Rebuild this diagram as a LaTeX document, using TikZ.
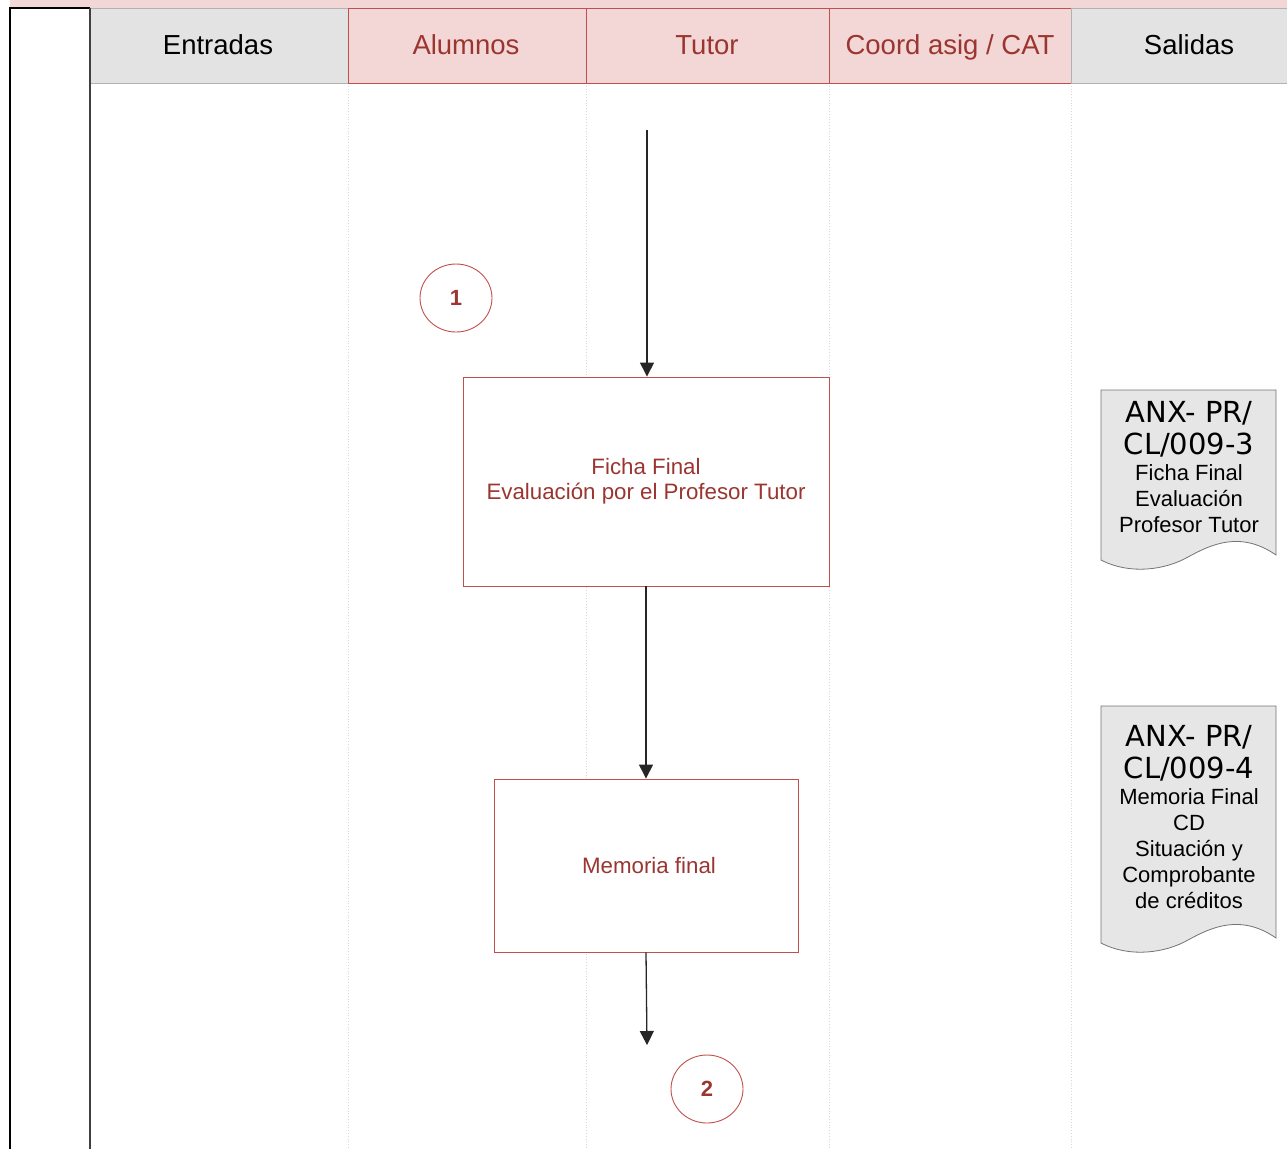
\documentclass[tikz,border=0pt]{standalone}
\usepackage{fontspec}
\setmainfont{Liberation Sans}
\newfontfamily\docfont{DejaVu Sans}
\usetikzlibrary{arrows.meta,shapes.geometric}
\definecolor{pinkfill}{HTML}{F3D6D6}
\definecolor{grayfill}{HTML}{E3E3E3}
\definecolor{docfill}{HTML}{E6E6E6}
\definecolor{redline}{HTML}{C0504D}
\definecolor{redtext}{HTML}{9B3530}
\definecolor{laneline}{HTML}{D8D8D8}
\tikzset{
  hdrpink/.style={draw=redline, line width=1pt, fill=pinkfill},
  hdrgray/.style={draw=gray!60, line width=1pt, fill=grayfill},
  hdrtext/.style={anchor=base, font=\fontsize{27.5}{30}\selectfont},
  procbox/.style={draw=redline, line width=0.9pt, fill=white, inner sep=0pt,
    text=redtext, align=center, font=\fontsize{22.3}{25}\selectfont},
  conn/.style={ellipse, draw=redline, line width=0.9pt, minimum width=72pt,
    minimum height=68pt, inner sep=0pt, text=redtext, font=\bfseries\fontsize{22}{24}\selectfont},
  flow/.style={draw=black!85, line width=1.3pt, -{Triangle[width=14pt,length=14pt]}},
  docshape/.style={draw=gray!90!black, line width=0.8pt, fill=docfill},
  doctext/.style={align=center, inner sep=0pt, font=\fontsize{22}{26}\selectfont},
  lane/.style={draw=laneline, line width=0.8pt, dotted}
}
\begin{document}
\begin{tikzpicture}[x=1pt,y=-1pt]
\useasboundingbox (0,0) rectangle (1287,1149);
% top strip
\fill[pinkfill] (10,0) rectangle (1287,8);
% lane separators
\foreach \xx in {348,586,829,1071} \draw[lane] (\xx,83) -- (\xx,1149);
% header cells
\draw[hdrgray] (90,8) rectangle (348,83);
\draw[hdrpink] (348,8) rectangle (586,83);
\draw[hdrpink] (586,8) rectangle (829,83);
\draw[hdrpink] (829,8) rectangle (1071,83);
\draw[hdrgray] (1071,8) rectangle (1290,83);
\node[hdrtext] (hEnt) at (218,54) {Entradas};
\node[hdrtext, text=redtext] (hAlu) at (466,54) {Alumnos};
\node[hdrtext, text=redtext] (hTut) at (707,54) {Tutor};
\node[hdrtext, text=redtext] (hCoo) at (950,54) {Coord asig / CAT};
\node[hdrtext] (hSal) at (1189,54) {Salidas};
% left frame
\draw[black, line width=2pt] (10,1149) -- (10,8) -- (90,8);
\draw[black!75, line width=2.2pt] (90,8) -- (90,1149);
% process boxes
\node[procbox, minimum width=366pt, minimum height=209pt] (ficha) at (646,481.5)
  {Ficha Final\\Evaluación por el Profesor Tutor};
\node[procbox, minimum width=304pt, minimum height=173pt] (memo) at (646,865.5)
  {\hspace*{6pt}Memoria final};
% connectors
\node[conn] (c1) at (456,298) {1};
\node[conn] (c2) at (707,1089) {2};
% arrows
\coordinate (start) at (647,130);
\coordinate (end) at (647,1045);
\draw[flow] (start) -- (ficha.north -| start);
\draw[flow] (ficha.south) -- (memo.north);
\draw[flow] (memo.south) -- (end);
% documents
\draw[docshape] (1101,390) -- (1276,390) -- (1276,555)
  .. controls (1240,530) and (1210,545) .. (1188,557)
  .. controls (1165,570) and (1130,575) .. (1101,560) -- cycle;
\node[doctext] (doc1) at (1189,467)
  {{\docfont\fontsize{29}{32}\selectfont ANX- PR/}\\[6pt]
   {\docfont\fontsize{29}{32}\selectfont CL/009-3}\\[0pt]
   Ficha Final\\Evaluación\\Profesor Tutor};
\draw[docshape] (1101,706) -- (1276,706) -- (1276,938)
  .. controls (1240,913) and (1210,928) .. (1188,940)
  .. controls (1165,953) and (1130,958) .. (1101,943) -- cycle;
\node[doctext] (doc2) at (1189,817)
  {{\docfont\fontsize{29}{32}\selectfont ANX- PR/}\\[6pt]
   {\docfont\fontsize{29}{32}\selectfont CL/009-4}\\[0pt]
   Memoria Final\\CD\\Situación y\\Comprobante\\de créditos};
\end{tikzpicture}
\end{document}
